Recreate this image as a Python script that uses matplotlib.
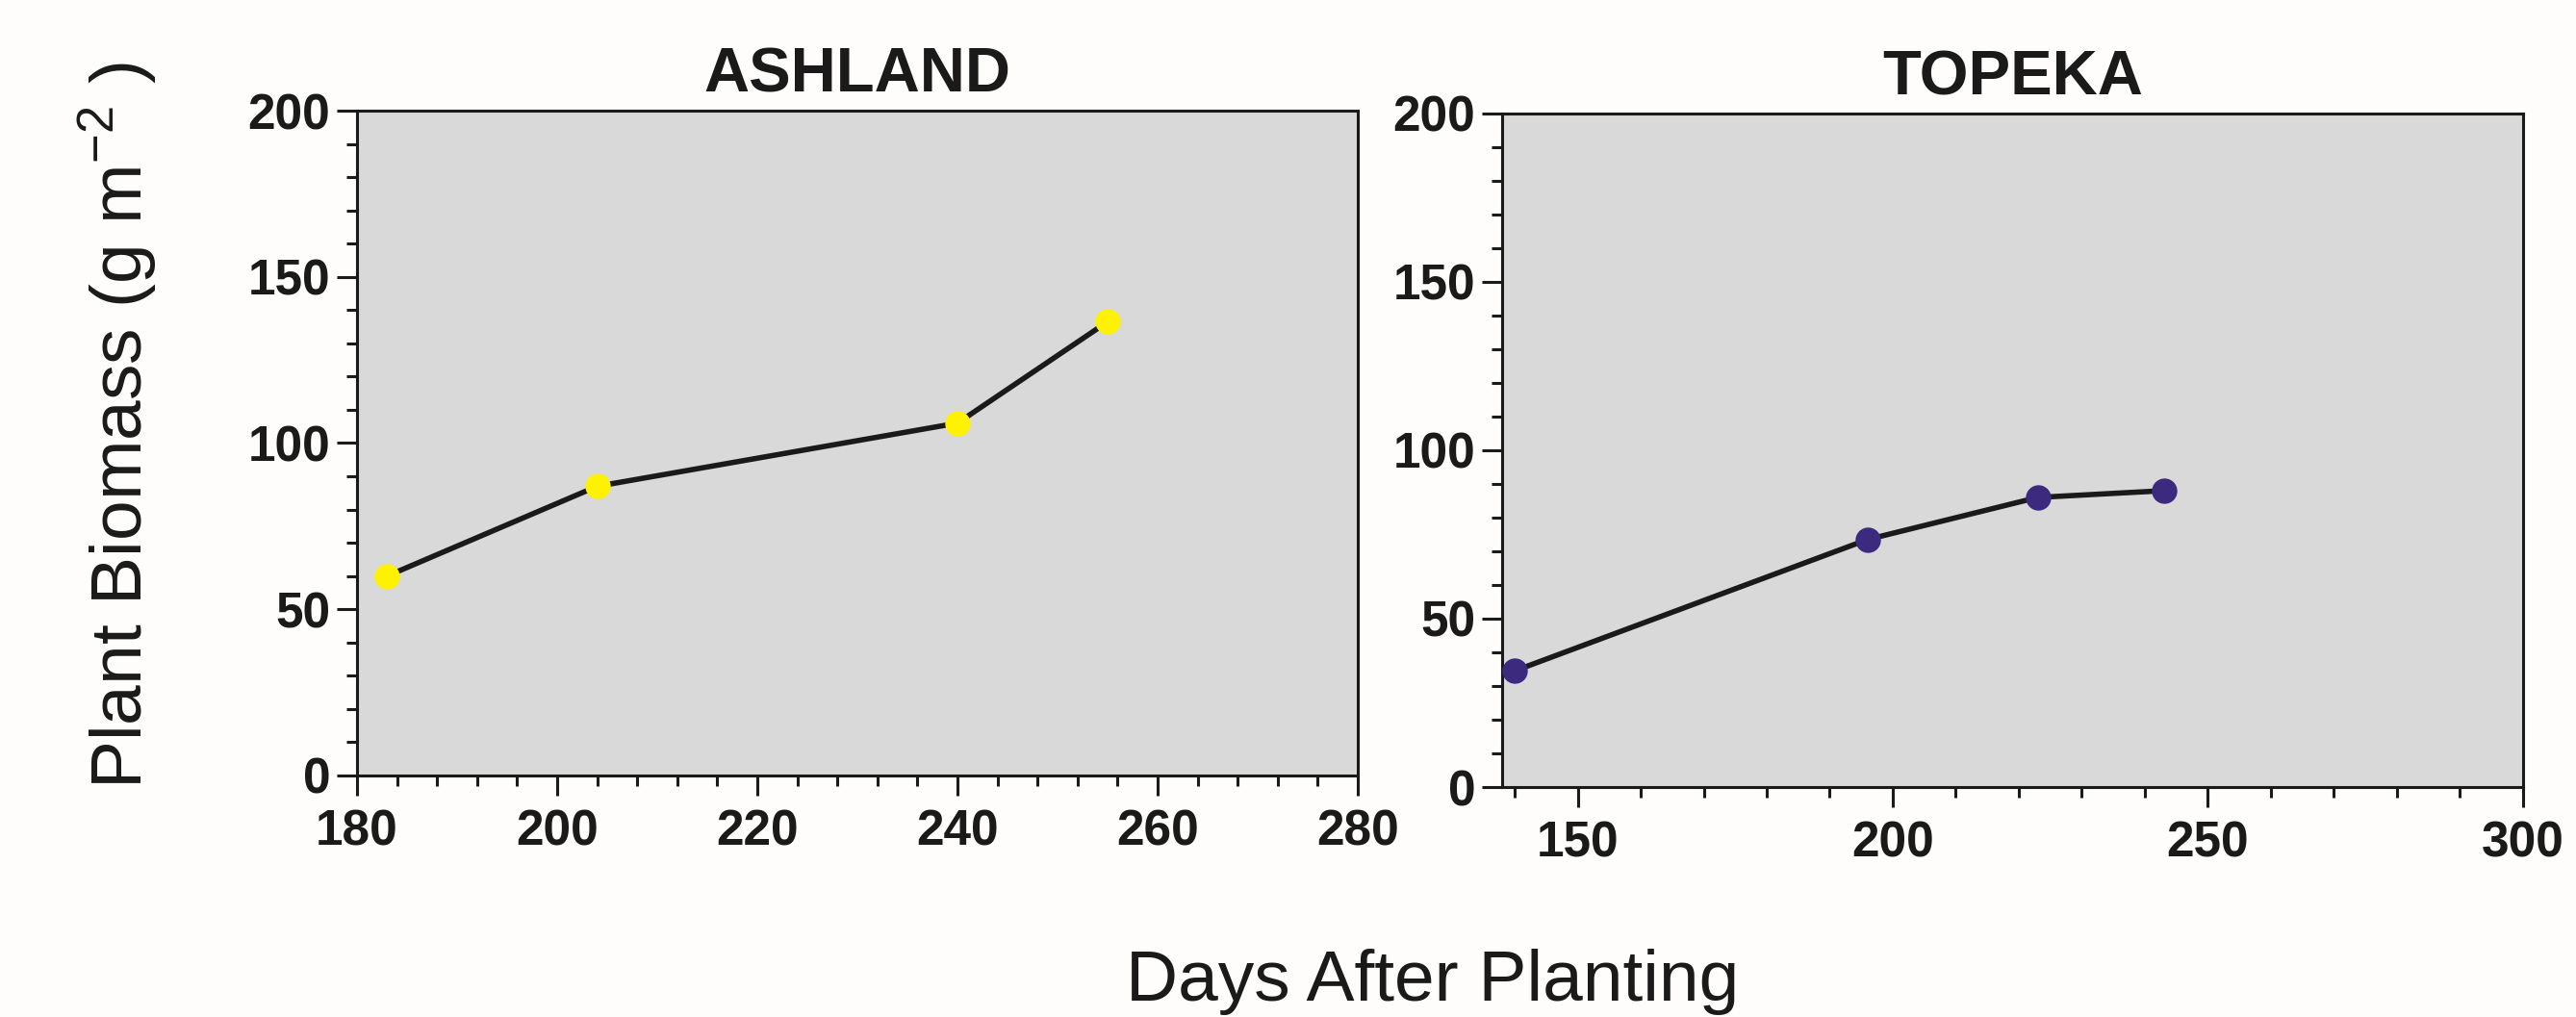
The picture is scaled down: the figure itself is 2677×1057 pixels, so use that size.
import numpy as np
import matplotlib
matplotlib.use("Agg")
import matplotlib.pyplot as plt
from matplotlib.ticker import MultipleLocator

# data
ashland_days = [183, 204, 240, 255]
ashland_biomass = [60, 87, 106, 136.5]
topeka_days = [140, 196, 223, 243]
topeka_biomass = [34.5, 73.5, 86, 88]

plt.rcParams['font.family'] = ['Liberation Sans', 'DejaVu Sans']
plt.rcParams['mathtext.fontset'] = 'custom'
plt.rcParams['mathtext.rm'] = 'Liberation Sans'

fig = plt.figure(figsize=(26.77, 10.57), dpi=100, facecolor='#fefdfb')

ax1 = fig.add_axes([0.1386, 0.2375, 0.3885, 0.6537])
ax2 = fig.add_axes([0.5831, 0.2261, 0.3963, 0.6623])


def style_axis(ax, xmajor, xminor):
    ax.set_facecolor('#d9d9d9')
    for sp in ax.spines.values():
        sp.set_linewidth(2.2)
        sp.set_color('#1a1a1a')
    ax.xaxis.set_major_locator(MultipleLocator(xmajor))
    ax.xaxis.set_minor_locator(MultipleLocator(xminor))
    ax.yaxis.set_major_locator(MultipleLocator(50))
    ax.yaxis.set_minor_locator(MultipleLocator(10))
    ax.tick_params(which='major', direction='out', length=15, width=2.2,
                   color='#1a1a1a', labelsize=37, top=False, right=False)
    ax.tick_params(which='minor', direction='out', length=8, width=2.2,
                   color='#1a1a1a', top=False, right=False)
    ax.tick_params(axis='x', which='major', pad=10)
    ax.tick_params(axis='y', which='major', pad=5)
    for lab in ax.get_xticklabels() + ax.get_yticklabels():
        lab.set_fontweight('bold')
        lab.set_color('#1a1a1a')


ax1.plot(ashland_days, ashland_biomass, color='#1a1a1a', lw=4, zorder=2)
ax1.plot(ashland_days, ashland_biomass, 'o', color='#fff200', ms=19, mec='none', zorder=3)
ax1.set_xlim(180, 280)
ax1.set_ylim(0, 200)
style_axis(ax1, 20, 4)
ax1.set_title('ASHLAND', fontsize=47, fontweight='bold', pad=14, color='#1a1a1a')

ax2.plot(topeka_days, topeka_biomass, color='#1a1a1a', lw=4, zorder=2)
ax2.plot(topeka_days, topeka_biomass, 'o', color='#3b2a7e', ms=19, mec='none', zorder=3)
ax2.set_xlim(138, 300)
ax2.set_ylim(0, 200)
style_axis(ax2, 50, 10)
ax2.set_title('TOPEKA', fontsize=47, fontweight='bold', pad=14, color='#1a1a1a')

fig.text(0.046, 0.582, 'Plant Biomass (g m$^{-2}$ )', rotation=90, fontsize=54,
         ha='center', va='center', color='#1a1a1a')
fig.text(0.556, 0.035, 'Days After Planting', fontsize=54,
         ha='center', va='center', color='#1a1a1a')

fig.savefig('out.png', dpi=100, facecolor=fig.get_facecolor())
